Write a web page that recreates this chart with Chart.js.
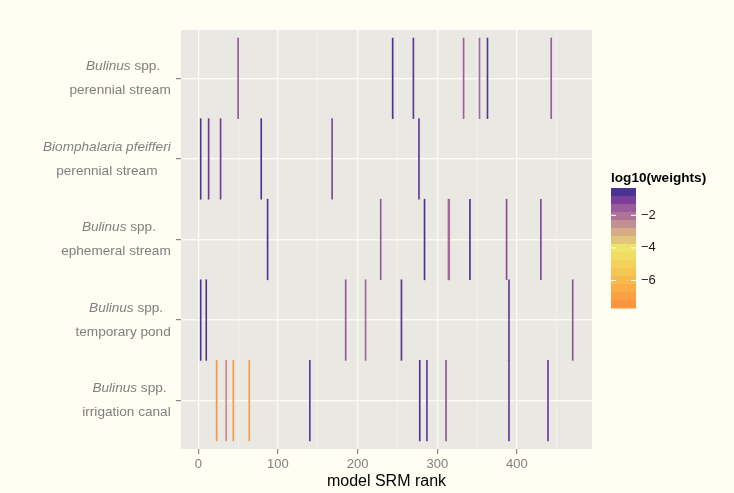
<!DOCTYPE html>
<html>
<head>
<meta charset="utf-8">
<script src="https://cdn.jsdelivr.net/npm/chart.js@4/dist/chart.umd.min.js"></script>
<style>
  html, body { margin: 0; padding: 0; background: #fefef3; }
  canvas { display: block; }
</style>
</head>
<body>
<canvas id="srmChart" width="734" height="493"></canvas>
<script>
// snail / habitat rows, top to bottom
var genus = ['Bulinus', 'Biomphalaria pfeifferi', 'Bulinus', 'Bulinus', 'Bulinus'];
var genusSuffix = [' spp.', '', ' spp.', ' spp.', ' spp.'];
var habitats = ['perennial stream', 'perennial stream', 'ephemeral stream', 'temporary pond', 'irrigation canal'];

// model SRM rank of each segment, per row
var ranksPerennialBulinus = [50, 244, 270, 333, 353, 363, 443];
var ranksPerennialBiomph = [3, 13, 28, 79, 168, 277];
var ranksEphemeral = [87, 229, 284, 314, 315, 341, 387, 430];
var ranksTemporary = [3, 10, 185, 210, 255, 390, 470];
var ranksIrrigation = [23, 35, 44, 64, 140, 278, 287, 311, 390, 439];

// log10(weights) for the same segments
var wPerennialBulinus = [-1.5, -0.4, -0.7, -1.6, -1.8, -0.7, -1.5];
var wPerennialBiomph = [-0.6, -0.9, -1.0, -0.6, -1.2, -0.8];
var wEphemeral = [-0.5, -1.5, -0.5, -1.8, -1.8, -0.5, -1.3, -1.2];
var wTemporary = [-0.6, -0.7, -1.5, -1.8, -0.7, -0.8, -1.4];
var wIrrigation = [-7.4, -2.5, -7.2, -7.3, -0.7, -0.6, -0.8, -1.4, -0.8, -0.9];

var xTicks = [0, 100, 200, 300, 400];
var legendTicks = [-2, -4, -6];

var allRanks = [ranksPerennialBulinus, ranksPerennialBiomph, ranksEphemeral, ranksTemporary, ranksIrrigation];
var allWeights = [wPerennialBulinus, wPerennialBiomph, wEphemeral, wTemporary, wIrrigation];

// colour scale, purple (high weight) through yellow to orange (low weight)
var scaleTop = -0.32, scaleBottom = -7.69;
var palette = ['#4a3493', '#7a3f98', '#9c5c9a', '#ac7596', '#c2908e', '#d5ac85', '#e2c57b',
               '#eee46a', '#f2dc63', '#f4d05d', '#f6c655', '#f7ba4b', '#f9ae47', '#faa243', '#fb943f'];

function hexToRgb(h) {
    return [parseInt(h.substr(1, 2), 16), parseInt(h.substr(3, 2), 16), parseInt(h.substr(5, 2), 16)];
}

function weightColour(v) {
    var n = palette.length;
    var step = (scaleTop - scaleBottom) / n;
    // palette entries sit at band centres
    var pos = (scaleTop - v) / step - 0.5;
    if (pos <= 0) return palette[0];
    if (pos >= n - 1) return palette[n - 1];
    var i = Math.floor(pos), t = pos - i;
    var a = hexToRgb(palette[i]), b = hexToRgb(palette[i + 1]);
    var c = a.map(function(x, k) { return Math.round(x + (b[k] - x) * t); });
    return 'rgb(' + c.join(',') + ')';
}

var datasets = allRanks.map(function(ranks, row) {
    return {
        data: ranks.map(function(r) { return { x: r, y: [row - 0.5, row + 0.5] }; }),
        backgroundColor: allWeights[row].map(weightColour),
        borderWidth: 0,
        barThickness: 1,
        grouped: false
    };
});

var FONT = '"Liberation Sans", Arial, Helvetica, sans-serif';

var backdrop = {
    id: 'backdrop',
    beforeDraw: function(chart) {
        var ctx = chart.ctx, a = chart.chartArea;
        ctx.save();
        ctx.fillStyle = '#fefef3';
        ctx.fillRect(0, 0, chart.width, chart.height);
        ctx.fillStyle = '#e9e8e3';
        ctx.fillRect(a.left, a.top, a.right - a.left, a.bottom - a.top);
        ctx.restore();
    }
};

// two-line row labels: italic genus over the habitat
var rowLabels = {
    id: 'rowLabels',
    afterDraw: function(chart) {
        var ctx = chart.ctx, y = chart.scales.y;
        var right = 170.7;
        var plainFont = '13.6px ' + FONT, italicFont = 'italic 13.6px ' + FONT;
        ctx.save();
        ctx.fillStyle = '#808080';
        ctx.textBaseline = 'middle';
        ctx.textAlign = 'left';
        habitats.forEach(function(h, i) {
            var cy = y.getPixelForValue(i);
            ctx.font = italicFont;
            var wg = ctx.measureText(genus[i]).width;
            ctx.font = plainFont;
            var ws = ctx.measureText(genusSuffix[i]).width;
            var wh = ctx.measureText(h).width;
            var w1 = wg + ws;
            var block = Math.max(w1, wh);
            var centre = right - block / 2;
            var pad = genusSuffix[i] ? 3 : 0;
            var x1 = centre - w1 / 2 + pad;
            ctx.font = italicFont;
            ctx.fillText(genus[i], x1, cy - 12);
            ctx.font = plainFont;
            ctx.fillText(genusSuffix[i], x1 + wg, cy - 12);
            ctx.fillText(h, centre - wh / 2, cy + 12);
        });
        ctx.restore();
    }
};

// colourbar legend
var colourBar = {
    id: 'colourBar',
    afterDraw: function(chart) {
        var ctx = chart.ctx;
        var left = 611, width = 25, top = 188, bottom = 308;
        var n = palette.length, bandH = (bottom - top) / n;
        ctx.save();
        ctx.fillStyle = '#000';
        ctx.font = 'bold 13.6px ' + FONT;
        ctx.textAlign = 'left';
        ctx.textBaseline = 'middle';
        ctx.fillText('log10(weights)', 611, 178);
        palette.forEach(function(c, i) {
            ctx.fillStyle = c;
            ctx.fillRect(left, top + i * bandH, width, bandH + 0.5);
        });
        var pxPerUnit = (bottom - top) / (scaleTop - scaleBottom);
        ctx.font = '13px ' + FONT;
        legendTicks.forEach(function(v) {
            var ty = top + (scaleTop - v) * pxPerUnit;
            ctx.strokeStyle = '#ffffff';
            ctx.lineWidth = 1;
            ctx.beginPath();
            ctx.moveTo(left, ty); ctx.lineTo(left + 5, ty);
            ctx.moveTo(left + width - 5, ty); ctx.lineTo(left + width, ty);
            ctx.stroke();
            ctx.fillStyle = '#1a1a1a';
            ctx.fillText('\u2212' + Math.abs(v), 641, ty);
        });
        ctx.restore();
    }
};

var ctx = document.getElementById('srmChart').getContext('2d');
var srmChart = new Chart(ctx, {
    type: 'bar',
    data: { datasets: datasets },
    options: {
        responsive: false,
        devicePixelRatio: 1,
        animation: false,
        layout: { padding: { left: 0, top: 30, right: 142, bottom: 0 } },
        plugins: { legend: { display: false }, tooltip: { enabled: false } },
        scales: {
            x: {
                type: 'linear',
                min: -21.7,
                max: 494.2,
                offset: false,
                afterBuildTicks: function(scale) {
                    var t = [];
                    xTicks.forEach(function(v) { t.push({ value: v }); t.push({ value: v + 50 }); });
                    scale.ticks = t;
                },
                afterFit: function(scale) { scale.height = 44; },
                border: { display: false },
                grid: {
                    offset: false,
                    color: function(c) { return c.tick && c.tick.value % 100 === 0 ? '#fcfbf2' : '#f5f4ed'; },
                    lineWidth: function(c) { return c.tick && c.tick.value % 100 === 0 ? 1.4 : 0.7; },
                    tickColor: function(c) { return c.tick && c.tick.value % 100 === 0 ? '#6f6f6f' : 'rgba(0,0,0,0)'; },
                    tickWidth: 1,
                    tickLength: 5
                },
                ticks: {
                    autoSkip: false,
                    maxRotation: 0,
                    padding: 3,
                    color: '#808080',
                    font: { family: FONT, size: 13 },
                    callback: function(v) { return v % 100 === 0 ? String(v) : ''; }
                },
                title: {
                    display: true,
                    text: 'model SRM rank',
                    color: '#000',
                    font: { family: FONT, size: 16 },
                    padding: { top: 0, bottom: 1.5 }
                }
            },
            y: {
                type: 'linear',
                reverse: true,
                min: -0.6,
                max: 4.6,
                afterBuildTicks: function(scale) {
                    scale.ticks = habitats.map(function(h, i) { return { value: i }; });
                },
                afterFit: function(scale) { scale.width = 181; },
                border: { display: false },
                grid: {
                    color: '#fcfbf2',
                    lineWidth: 1.4,
                    tickColor: '#6f6f6f',
                    tickWidth: 1,
                    tickLength: 5
                },
                ticks: { display: false }
            }
        }
    },
    plugins: [backdrop, rowLabels, colourBar]
});
</script>
</body>
</html>
